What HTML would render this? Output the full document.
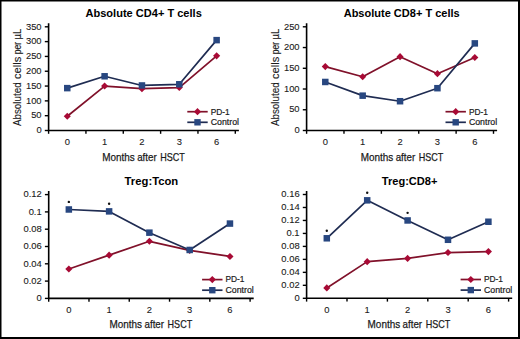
<!DOCTYPE html>
<html><head><meta charset="utf-8"><style>
html,body{margin:0;padding:0;background:#fff;overflow:hidden;}
svg{display:block;}
text{font-family:"Liberation Sans", sans-serif;fill:#1a1a1a;}
.tk{font-size:9.4px;stroke:#1a1a1a;stroke-width:0.1px;}
.lg{font-size:8.8px;stroke:#1a1a1a;stroke-width:0.2px;}
.ti{font-size:10px;font-weight:bold;fill:#000;}
.xt{font-size:11.5px;stroke:#1a1a1a;stroke-width:0.25px;}
.yl{font-size:10px;stroke:#1a1a1a;stroke-width:0.12px;}
</style></head><body>
<svg width="520" height="339" viewBox="0 0 520 339">
<rect x="0" y="0" width="520" height="339" fill="#fff"/>
<path d="M48.60 23.20V130.50H238.90" fill="none" stroke="#000" stroke-width="1.6"/>
<path d="M44.80 130.50H48.6" stroke="#000" stroke-width="1.4"/>
<text x="41.60" y="133.20" text-anchor="end" class="tk">0</text>
<path d="M44.80 115.69H48.6" stroke="#000" stroke-width="1.4"/>
<text x="41.60" y="118.39" text-anchor="end" class="tk">50</text>
<path d="M44.80 100.87H48.6" stroke="#000" stroke-width="1.4"/>
<text x="41.60" y="103.57" text-anchor="end" class="tk">100</text>
<path d="M44.80 86.06H48.6" stroke="#000" stroke-width="1.4"/>
<text x="41.60" y="88.76" text-anchor="end" class="tk">150</text>
<path d="M44.80 71.24H48.6" stroke="#000" stroke-width="1.4"/>
<text x="41.60" y="73.94" text-anchor="end" class="tk">200</text>
<path d="M44.80 56.43H48.6" stroke="#000" stroke-width="1.4"/>
<text x="41.60" y="59.13" text-anchor="end" class="tk">250</text>
<path d="M44.80 41.61H48.6" stroke="#000" stroke-width="1.4"/>
<text x="41.60" y="44.31" text-anchor="end" class="tk">300</text>
<path d="M44.80 26.80H48.6" stroke="#000" stroke-width="1.4"/>
<text x="41.60" y="29.50" text-anchor="end" class="tk">350</text>
<path d="M48.60 130.5V133.80" stroke="#000" stroke-width="1.4"/>
<path d="M85.94 130.5V133.80" stroke="#000" stroke-width="1.4"/>
<path d="M123.28 130.5V133.80" stroke="#000" stroke-width="1.4"/>
<path d="M160.62 130.5V133.80" stroke="#000" stroke-width="1.4"/>
<path d="M197.96 130.5V133.80" stroke="#000" stroke-width="1.4"/>
<path d="M235.30 130.5V133.80" stroke="#000" stroke-width="1.4"/>
<text x="67.27" y="145.30" text-anchor="middle" class="tk">0</text>
<text x="104.61" y="145.30" text-anchor="middle" class="tk">1</text>
<text x="141.95" y="145.30" text-anchor="middle" class="tk">2</text>
<text x="179.29" y="145.30" text-anchor="middle" class="tk">3</text>
<text x="216.63" y="145.30" text-anchor="middle" class="tk">6</text>
<polyline points="67.27,116.28 104.61,86.06 141.95,88.72 179.29,87.54 216.63,55.84" fill="none" stroke="#80112A" stroke-width="1.7" stroke-linejoin="round"/>
<path d="M67.27 112.73L70.82 116.28L67.27 119.83L63.72 116.28Z" fill="#A80A35"/>
<path d="M104.61 82.51L108.16 86.06L104.61 89.61L101.06 86.06Z" fill="#A80A35"/>
<path d="M141.95 85.17L145.50 88.72L141.95 92.27L138.40 88.72Z" fill="#A80A35"/>
<path d="M179.29 83.99L182.84 87.54L179.29 91.09L175.74 87.54Z" fill="#A80A35"/>
<path d="M216.63 52.29L220.18 55.84L216.63 59.39L213.08 55.84Z" fill="#A80A35"/>
<polyline points="67.27,88.13 104.61,76.28 141.95,85.46 179.29,84.28 216.63,40.13" fill="none" stroke="#1F2C52" stroke-width="1.7" stroke-linejoin="round"/>
<rect x="64.02" y="84.88" width="6.5" height="6.5" fill="#284780"/>
<rect x="101.36" y="73.03" width="6.5" height="6.5" fill="#284780"/>
<rect x="138.70" y="82.21" width="6.5" height="6.5" fill="#284780"/>
<rect x="176.04" y="81.03" width="6.5" height="6.5" fill="#284780"/>
<rect x="213.38" y="36.88" width="6.5" height="6.5" fill="#284780"/>
<path d="M187.30 111.70H207.70" stroke="#80112A" stroke-width="1.7"/>
<path d="M197.50 108.10L201.10 111.70L197.50 115.30L193.90 111.70Z" fill="#A80A35"/>
<text x="210.70" y="114.50" class="lg" textLength="19.0" lengthAdjust="spacingAndGlyphs">PD-1</text>
<path d="M187.30 122.30H207.70" stroke="#1F2C52" stroke-width="1.7"/>
<rect x="194.30" y="119.10" width="6.4" height="6.4" fill="#284780"/>
<text x="210.70" y="125.10" class="lg" textLength="28.3" lengthAdjust="spacingAndGlyphs">Control</text>
<text x="85.50" y="16.70" class="ti" textLength="116.30" lengthAdjust="spacingAndGlyphs">Absolute CD4+ T cells</text>
<text x="102.20" y="160.50" class="xt" textLength="32.60" lengthAdjust="spacingAndGlyphs">Months</text>
<text x="137.20" y="160.50" class="xt" textLength="19.50" lengthAdjust="spacingAndGlyphs">after</text>
<text x="160.30" y="160.50" class="xt" textLength="24.60" lengthAdjust="spacingAndGlyphs">HSCT</text>
<text transform="translate(20.60 126.10) rotate(-90)" x="0" y="0" class="yl" textLength="43.80" lengthAdjust="spacingAndGlyphs">Absoluted</text>
<text transform="translate(20.60 79.10) rotate(-90)" x="0" y="0" class="yl" textLength="22.40" lengthAdjust="spacingAndGlyphs">cells</text>
<text transform="translate(20.60 54.20) rotate(-90)" x="0" y="0" class="yl" textLength="12.40" lengthAdjust="spacingAndGlyphs">per</text>
<text transform="translate(20.60 39.60) rotate(-90)" x="0" y="0" class="yl" textLength="10.90" lengthAdjust="spacingAndGlyphs">µL</text>
<path d="M306.60 23.20V130.50H497.10" fill="none" stroke="#000" stroke-width="1.6"/>
<path d="M302.80 130.50H306.6" stroke="#000" stroke-width="1.4"/>
<text x="299.60" y="133.20" text-anchor="end" class="tk">0</text>
<path d="M302.80 109.76H306.6" stroke="#000" stroke-width="1.4"/>
<text x="299.60" y="112.46" text-anchor="end" class="tk">50</text>
<path d="M302.80 89.02H306.6" stroke="#000" stroke-width="1.4"/>
<text x="299.60" y="91.72" text-anchor="end" class="tk">100</text>
<path d="M302.80 68.28H306.6" stroke="#000" stroke-width="1.4"/>
<text x="299.60" y="70.98" text-anchor="end" class="tk">150</text>
<path d="M302.80 47.54H306.6" stroke="#000" stroke-width="1.4"/>
<text x="299.60" y="50.24" text-anchor="end" class="tk">200</text>
<path d="M302.80 26.80H306.6" stroke="#000" stroke-width="1.4"/>
<text x="299.60" y="29.50" text-anchor="end" class="tk">250</text>
<path d="M306.60 130.5V133.80" stroke="#000" stroke-width="1.4"/>
<path d="M343.98 130.5V133.80" stroke="#000" stroke-width="1.4"/>
<path d="M381.36 130.5V133.80" stroke="#000" stroke-width="1.4"/>
<path d="M418.74 130.5V133.80" stroke="#000" stroke-width="1.4"/>
<path d="M456.12 130.5V133.80" stroke="#000" stroke-width="1.4"/>
<path d="M493.50 130.5V133.80" stroke="#000" stroke-width="1.4"/>
<text x="325.29" y="145.30" text-anchor="middle" class="tk">0</text>
<text x="362.67" y="145.30" text-anchor="middle" class="tk">1</text>
<text x="400.05" y="145.30" text-anchor="middle" class="tk">2</text>
<text x="437.43" y="145.30" text-anchor="middle" class="tk">3</text>
<text x="474.81" y="145.30" text-anchor="middle" class="tk">6</text>
<polyline points="325.29,66.62 362.67,76.78 400.05,56.67 437.43,73.67 474.81,57.50" fill="none" stroke="#80112A" stroke-width="1.7" stroke-linejoin="round"/>
<path d="M325.29 63.07L328.84 66.62L325.29 70.17L321.74 66.62Z" fill="#A80A35"/>
<path d="M362.67 73.23L366.22 76.78L362.67 80.33L359.12 76.78Z" fill="#A80A35"/>
<path d="M400.05 53.12L403.60 56.67L400.05 60.22L396.50 56.67Z" fill="#A80A35"/>
<path d="M437.43 70.12L440.98 73.67L437.43 77.22L433.88 73.67Z" fill="#A80A35"/>
<path d="M474.81 53.95L478.36 57.50L474.81 61.05L471.26 57.50Z" fill="#A80A35"/>
<polyline points="325.29,81.97 362.67,95.66 400.05,101.22 437.43,88.19 474.81,43.39" fill="none" stroke="#1F2C52" stroke-width="1.7" stroke-linejoin="round"/>
<rect x="322.04" y="78.72" width="6.5" height="6.5" fill="#284780"/>
<rect x="359.42" y="92.41" width="6.5" height="6.5" fill="#284780"/>
<rect x="396.80" y="97.97" width="6.5" height="6.5" fill="#284780"/>
<rect x="434.18" y="84.94" width="6.5" height="6.5" fill="#284780"/>
<rect x="471.56" y="40.14" width="6.5" height="6.5" fill="#284780"/>
<path d="M445.50 111.70H465.90" stroke="#80112A" stroke-width="1.7"/>
<path d="M455.70 108.10L459.30 111.70L455.70 115.30L452.10 111.70Z" fill="#A80A35"/>
<text x="468.90" y="114.50" class="lg" textLength="19.0" lengthAdjust="spacingAndGlyphs">PD-1</text>
<path d="M445.50 122.30H465.90" stroke="#1F2C52" stroke-width="1.7"/>
<rect x="452.50" y="119.10" width="6.4" height="6.4" fill="#284780"/>
<text x="468.90" y="125.10" class="lg" textLength="28.3" lengthAdjust="spacingAndGlyphs">Control</text>
<text x="343.70" y="16.70" class="ti" textLength="116.00" lengthAdjust="spacingAndGlyphs">Absolute CD8+ T cells</text>
<text x="360.70" y="160.50" class="xt" textLength="32.60" lengthAdjust="spacingAndGlyphs">Months</text>
<text x="395.70" y="160.50" class="xt" textLength="19.50" lengthAdjust="spacingAndGlyphs">after</text>
<text x="418.80" y="160.50" class="xt" textLength="24.60" lengthAdjust="spacingAndGlyphs">HSCT</text>
<text transform="translate(278.60 126.10) rotate(-90)" x="0" y="0" class="yl" textLength="43.80" lengthAdjust="spacingAndGlyphs">Absoluted</text>
<text transform="translate(278.60 79.10) rotate(-90)" x="0" y="0" class="yl" textLength="22.40" lengthAdjust="spacingAndGlyphs">cells</text>
<text transform="translate(278.60 54.20) rotate(-90)" x="0" y="0" class="yl" textLength="12.40" lengthAdjust="spacingAndGlyphs">per</text>
<text transform="translate(278.60 39.60) rotate(-90)" x="0" y="0" class="yl" textLength="10.90" lengthAdjust="spacingAndGlyphs">µL</text>
<path d="M48.70 191.00V298.40H253.70" fill="none" stroke="#000" stroke-width="1.6"/>
<path d="M44.90 298.40H48.7" stroke="#000" stroke-width="1.4"/>
<text x="41.70" y="301.10" text-anchor="end" class="tk">0</text>
<path d="M44.90 281.10H48.7" stroke="#000" stroke-width="1.4"/>
<text x="41.70" y="283.80" text-anchor="end" class="tk">0.02</text>
<path d="M44.90 263.80H48.7" stroke="#000" stroke-width="1.4"/>
<text x="41.70" y="266.50" text-anchor="end" class="tk">0.04</text>
<path d="M44.90 246.50H48.7" stroke="#000" stroke-width="1.4"/>
<text x="41.70" y="249.20" text-anchor="end" class="tk">0.06</text>
<path d="M44.90 229.20H48.7" stroke="#000" stroke-width="1.4"/>
<text x="41.70" y="231.90" text-anchor="end" class="tk">0.08</text>
<path d="M44.90 211.90H48.7" stroke="#000" stroke-width="1.4"/>
<text x="41.70" y="214.60" text-anchor="end" class="tk">0.1</text>
<path d="M44.90 194.60H48.7" stroke="#000" stroke-width="1.4"/>
<text x="41.70" y="197.30" text-anchor="end" class="tk">0.12</text>
<path d="M48.70 298.4V301.70" stroke="#000" stroke-width="1.4"/>
<path d="M88.98 298.4V301.70" stroke="#000" stroke-width="1.4"/>
<path d="M129.26 298.4V301.70" stroke="#000" stroke-width="1.4"/>
<path d="M169.54 298.4V301.70" stroke="#000" stroke-width="1.4"/>
<path d="M209.82 298.4V301.70" stroke="#000" stroke-width="1.4"/>
<path d="M250.10 298.4V301.70" stroke="#000" stroke-width="1.4"/>
<text x="68.84" y="313.20" text-anchor="middle" class="tk">0</text>
<text x="109.12" y="313.20" text-anchor="middle" class="tk">1</text>
<text x="149.40" y="313.20" text-anchor="middle" class="tk">2</text>
<text x="189.68" y="313.20" text-anchor="middle" class="tk">3</text>
<text x="229.96" y="313.20" text-anchor="middle" class="tk">6</text>
<polyline points="68.84,268.99 109.12,255.15 149.40,241.31 189.68,250.39 229.96,256.45" fill="none" stroke="#80112A" stroke-width="1.7" stroke-linejoin="round"/>
<path d="M68.84 265.44L72.39 268.99L68.84 272.54L65.29 268.99Z" fill="#A80A35"/>
<path d="M109.12 251.60L112.67 255.15L109.12 258.70L105.57 255.15Z" fill="#A80A35"/>
<path d="M149.40 237.76L152.95 241.31L149.40 244.86L145.85 241.31Z" fill="#A80A35"/>
<path d="M189.68 246.84L193.23 250.39L189.68 253.94L186.13 250.39Z" fill="#A80A35"/>
<path d="M229.96 252.90L233.51 256.45L229.96 260.00L226.41 256.45Z" fill="#A80A35"/>
<polyline points="68.84,209.48 109.12,211.38 149.40,232.66 189.68,249.96 229.96,223.58" fill="none" stroke="#1F2C52" stroke-width="1.7" stroke-linejoin="round"/>
<rect x="65.59" y="206.23" width="6.5" height="6.5" fill="#284780"/>
<rect x="105.87" y="208.13" width="6.5" height="6.5" fill="#284780"/>
<rect x="146.15" y="229.41" width="6.5" height="6.5" fill="#284780"/>
<rect x="186.43" y="246.71" width="6.5" height="6.5" fill="#284780"/>
<rect x="226.71" y="220.33" width="6.5" height="6.5" fill="#284780"/>
<circle cx="68.84" cy="201.88" r="1.2" fill="#111"/>
<circle cx="109.12" cy="203.78" r="1.2" fill="#111"/>
<path d="M202.10 279.60H222.50" stroke="#80112A" stroke-width="1.7"/>
<path d="M212.30 276.00L215.90 279.60L212.30 283.20L208.70 279.60Z" fill="#A80A35"/>
<text x="225.50" y="282.40" class="lg" textLength="19.0" lengthAdjust="spacingAndGlyphs">PD-1</text>
<path d="M202.10 290.20H222.50" stroke="#1F2C52" stroke-width="1.7"/>
<rect x="209.10" y="287.00" width="6.4" height="6.4" fill="#284780"/>
<text x="225.50" y="293.00" class="lg" textLength="28.3" lengthAdjust="spacingAndGlyphs">Control</text>
<text x="124.60" y="184.90" class="ti" textLength="53.60" lengthAdjust="spacingAndGlyphs">Treg:Tcon</text>
<text x="109.50" y="328.20" class="xt" textLength="32.60" lengthAdjust="spacingAndGlyphs">Months</text>
<text x="144.50" y="328.20" class="xt" textLength="19.50" lengthAdjust="spacingAndGlyphs">after</text>
<text x="167.60" y="328.20" class="xt" textLength="24.60" lengthAdjust="spacingAndGlyphs">HSCT</text>
<path d="M306.60 190.90V298.30H512.20" fill="none" stroke="#000" stroke-width="1.6"/>
<path d="M302.80 298.30H306.6" stroke="#000" stroke-width="1.4"/>
<text x="299.60" y="301.00" text-anchor="end" class="tk">0</text>
<path d="M302.80 285.32H306.6" stroke="#000" stroke-width="1.4"/>
<text x="299.60" y="288.02" text-anchor="end" class="tk">0.02</text>
<path d="M302.80 272.35H306.6" stroke="#000" stroke-width="1.4"/>
<text x="299.60" y="275.05" text-anchor="end" class="tk">0.04</text>
<path d="M302.80 259.38H306.6" stroke="#000" stroke-width="1.4"/>
<text x="299.60" y="262.07" text-anchor="end" class="tk">0.06</text>
<path d="M302.80 246.40H306.6" stroke="#000" stroke-width="1.4"/>
<text x="299.60" y="249.10" text-anchor="end" class="tk">0.08</text>
<path d="M302.80 233.43H306.6" stroke="#000" stroke-width="1.4"/>
<text x="299.60" y="236.12" text-anchor="end" class="tk">0.1</text>
<path d="M302.80 220.45H306.6" stroke="#000" stroke-width="1.4"/>
<text x="299.60" y="223.15" text-anchor="end" class="tk">0.12</text>
<path d="M302.80 207.48H306.6" stroke="#000" stroke-width="1.4"/>
<text x="299.60" y="210.18" text-anchor="end" class="tk">0.14</text>
<path d="M302.80 194.50H306.6" stroke="#000" stroke-width="1.4"/>
<text x="299.60" y="197.20" text-anchor="end" class="tk">0.16</text>
<path d="M306.60 298.3V301.60" stroke="#000" stroke-width="1.4"/>
<path d="M347.00 298.3V301.60" stroke="#000" stroke-width="1.4"/>
<path d="M387.40 298.3V301.60" stroke="#000" stroke-width="1.4"/>
<path d="M427.80 298.3V301.60" stroke="#000" stroke-width="1.4"/>
<path d="M468.20 298.3V301.60" stroke="#000" stroke-width="1.4"/>
<path d="M508.60 298.3V301.60" stroke="#000" stroke-width="1.4"/>
<text x="326.80" y="313.10" text-anchor="middle" class="tk">0</text>
<text x="367.20" y="313.10" text-anchor="middle" class="tk">1</text>
<text x="407.60" y="313.10" text-anchor="middle" class="tk">2</text>
<text x="448.00" y="313.10" text-anchor="middle" class="tk">3</text>
<text x="488.40" y="313.10" text-anchor="middle" class="tk">6</text>
<polyline points="326.80,287.92 367.20,261.65 407.60,258.40 448.00,252.56 488.40,251.59" fill="none" stroke="#80112A" stroke-width="1.7" stroke-linejoin="round"/>
<path d="M326.80 284.37L330.35 287.92L326.80 291.47L323.25 287.92Z" fill="#A80A35"/>
<path d="M367.20 258.10L370.75 261.65L367.20 265.20L363.65 261.65Z" fill="#A80A35"/>
<path d="M407.60 254.85L411.15 258.40L407.60 261.95L404.05 258.40Z" fill="#A80A35"/>
<path d="M448.00 249.01L451.55 252.56L448.00 256.11L444.45 252.56Z" fill="#A80A35"/>
<path d="M488.40 248.04L491.95 251.59L488.40 255.14L484.85 251.59Z" fill="#A80A35"/>
<polyline points="326.80,238.29 367.20,200.34 407.60,220.45 448.00,239.78 488.40,221.75" fill="none" stroke="#1F2C52" stroke-width="1.7" stroke-linejoin="round"/>
<rect x="323.55" y="235.04" width="6.5" height="6.5" fill="#284780"/>
<rect x="363.95" y="197.09" width="6.5" height="6.5" fill="#284780"/>
<rect x="404.35" y="217.20" width="6.5" height="6.5" fill="#284780"/>
<rect x="444.75" y="236.53" width="6.5" height="6.5" fill="#284780"/>
<rect x="485.15" y="218.50" width="6.5" height="6.5" fill="#284780"/>
<circle cx="326.80" cy="230.69" r="1.2" fill="#111"/>
<circle cx="367.20" cy="192.74" r="1.2" fill="#111"/>
<circle cx="407.60" cy="212.85" r="1.2" fill="#111"/>
<path d="M460.60 279.50H481.00" stroke="#80112A" stroke-width="1.7"/>
<path d="M470.80 275.90L474.40 279.50L470.80 283.10L467.20 279.50Z" fill="#A80A35"/>
<text x="484.00" y="282.30" class="lg" textLength="19.0" lengthAdjust="spacingAndGlyphs">PD-1</text>
<path d="M460.60 290.10H481.00" stroke="#1F2C52" stroke-width="1.7"/>
<rect x="467.60" y="286.90" width="6.4" height="6.4" fill="#284780"/>
<text x="484.00" y="292.90" class="lg" textLength="28.3" lengthAdjust="spacingAndGlyphs">Control</text>
<text x="381.80" y="185.40" class="ti" textLength="55.60" lengthAdjust="spacingAndGlyphs">Treg:CD8+</text>
<text x="367.60" y="328.20" class="xt" textLength="32.60" lengthAdjust="spacingAndGlyphs">Months</text>
<text x="402.60" y="328.20" class="xt" textLength="19.50" lengthAdjust="spacingAndGlyphs">after</text>
<text x="425.70" y="328.20" class="xt" textLength="24.60" lengthAdjust="spacingAndGlyphs">HSCT</text>
<rect x="0" y="0" width="1.5" height="339" fill="#000"/>
<rect x="0" y="0" width="520" height="1.5" fill="#000"/>
<rect x="518" y="0" width="2" height="339" fill="#000"/>
<rect x="0" y="337" width="520" height="2" fill="#000"/>
</svg>
</body></html>
